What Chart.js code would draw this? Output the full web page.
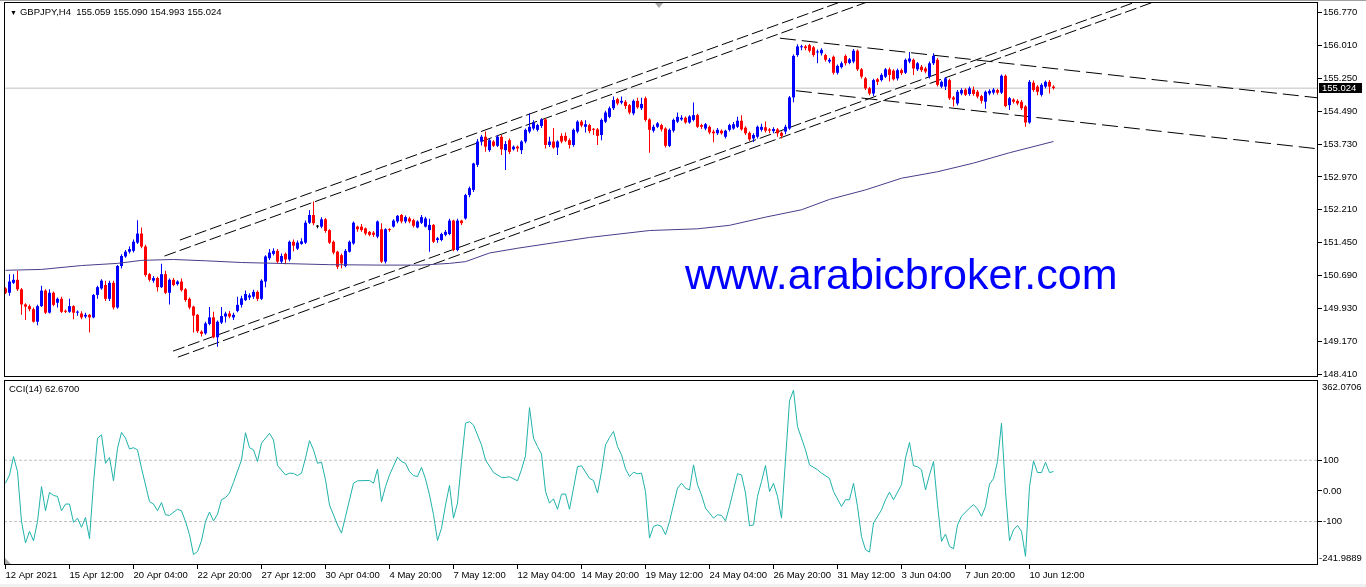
<!DOCTYPE html>
<html>
<head>
<meta charset="utf-8">
<title>GBPJPY,H4</title>
<script src="https://cdn.jsdelivr.net/npm/chart.js@4.4.1/dist/chart.umd.min.js"></script>
<style>
  html, body { margin: 0; padding: 0; background: #fff; }
  body { position: relative; width: 1366px; height: 587px; overflow: hidden; font-family: "Liberation Sans", Arial, sans-serif; }
  canvas { position: absolute; left: 0; }
  #priceChart { top: 0; }
  #cciChart { top: 378px; }
  .txt { position: absolute; font-size: 9.5px; line-height: 11px; color: #000; white-space: pre; }
  #header { left: 10px; top: 6px; }
  #header span { font-size: 7px; margin-right: 3px; }
  #cciTitle { left: 9px; top: 383px; }
  #bidBox { left: 1319px; top: 83px; width: 40px; height: 10px; line-height: 10px; padding-left: 3px; background: #000; color: #fff; }
  #cciMax { left: 1322px; top: 381px; }
  #cciMin { left: 1319px; top: 552px; }
  #site { position: absolute; left: 685px; top: 253px; font-size: 43px; line-height: 43px; color: #0000ff; white-space: nowrap; }
  #topLine { position: absolute; left: 0; top: 0; width: 1366px; height: 1px; background: #a0a0a0; }
  #bottomBand { position: absolute; left: 0; top: 584px; width: 1366px; height: 3px; background: #f0f0f0; }
</style>
</head>
<body>
<canvas id="priceChart" width="1366" height="380"></canvas>
<canvas id="cciChart" width="1366" height="209"></canvas>
<div id="topLine"></div>
<div class="txt" id="header"><span>▼</span>GBPJPY,H4  155.059 155.090 154.993 155.024</div>
<div id="site">www.arabicbroker.com</div>
<div class="txt" id="bidBox">155.024</div>
<div class="txt" id="cciTitle">CCI(14) 62.6700</div>
<div class="txt" id="cciMax">362.0706</div>
<div class="txt" id="cciMin">-241.9889</div>
<div id="bottomBand"></div>
<script>
/* H4 candles, one entry per bar */
const barOpen = [
  150.39,150.29,150.52,150.59,150.37,150.02,149.98,149.91,149.62,149.98,
  150.34,149.83,150.29,150.06,150.15,149.87,149.85,149.98,149.83,149.81,
  149.74,149.78,149.72,150.24,150.39,150.47,150.15,150.52,149.95,150.91,
  151.13,151.24,151.26,151.45,151.66,151.36,150.72,150.57,150.63,150.42,
  150.72,150.29,150.59,150.49,150.55,150.37,150.15,149.97,149.78,149.39,
  149.35,149.57,149.72,149.26,149.60,149.74,149.81,149.72,
  149.87,150.01,150.12,150.18,150.20,150.31,150.15,150.55,151.09,151.19,
  151.26,151.01,151.19,151.06,151.47,151.31,151.42,151.45,151.91,152.09,
  151.82,151.82,151.99,151.74,151.47,151.24,151.16,150.91,151.24,151.43,
  151.82,151.82,151.78,151.70,151.68,151.59,151.76,151.01,151.76,151.82,
  151.94,152.09,151.94,152.01,151.97,151.80,151.91,151.82,151.74,151.86,
  151.51,151.51,151.63,151.65,151.96,151.28,151.96,
  152.01,152.55,152.67,153.25,153.79,153.90,153.59,153.79,153.69,153.90,
  153.59,153.82,153.61,153.67,153.59,153.79,154.02,154.09,154.06,154.15,
  154.30,153.71,153.79,153.65,153.92,153.92,153.82,153.71,154.02,154.25,
  154.13,154.17,154.07,154.07,153.94,154.25,154.36,154.56,154.77,154.69,
  154.71,154.63,154.44,154.73,154.56,154.79,154.30,154.04,154.13,154.17,
  154.09,153.69,154.04,154.25,154.30,154.34,
  154.23,154.29,154.40,154.17,154.09,154.13,154.02,153.98,154.04,153.90,
  154.06,154.09,154.13,154.27,154.11,153.99,153.86,153.90,154.06,154.12,
  154.07,154.03,154.07,153.99,154.02,154.09,154.81,155.79,155.97,155.99,
  156.02,155.97,155.85,155.83,155.79,155.64,155.75,155.38,155.51,155.77,
  155.61,155.64,155.89,155.46,155.25,155.02,154.90,155.23,155.21,155.29,155.46,
  155.43,155.25,155.44,155.38,155.64,155.68,155.46,155.52,155.48,155.29,
  155.60,155.68,155.06,155.06,155.21,154.81,154.67,154.90,154.99,154.89,
  154.99,154.94,154.84,154.71,154.90,154.92,154.98,154.92,155.31,154.63,
  154.76,154.73,154.71,154.60,154.23,155.15,155.06,154.87,155.06,155.17,155.059
];
const barHigh = [
  150.42,150.72,150.72,150.80,150.40,150.05,150.02,149.95,150.01,150.45,
  150.37,150.37,150.32,150.18,150.20,149.90,150.15,150.00,149.88,149.86,
  149.83,149.80,150.26,150.45,150.60,150.57,150.57,150.57,150.93,151.18,
  151.28,151.36,151.52,151.97,151.80,151.40,150.75,150.68,150.66,150.96,
  150.80,150.62,150.63,150.58,150.62,150.40,150.18,149.99,149.80,149.42,
  149.62,149.96,149.85,149.65,149.96,149.85,149.87,149.83,
  150.20,150.22,150.34,150.28,150.36,150.34,150.60,151.16,151.30,151.32,
  151.30,151.20,151.22,151.50,151.52,151.50,151.55,151.96,152.20,152.40,
  151.86,152.04,152.02,151.76,151.50,151.26,151.20,151.30,151.50,151.94,
  151.84,151.88,151.80,151.72,151.72,151.96,151.90,151.78,151.78,151.99,
  152.09,152.11,152.08,152.05,152.00,151.97,152.09,152.05,152.00,151.88,
  151.58,151.68,151.74,152.00,151.98,152.00,151.98,
  152.58,152.75,153.30,153.85,153.94,154.02,153.86,153.82,153.94,153.94,
  153.80,153.86,153.70,153.70,153.82,154.09,154.44,154.28,154.20,154.33,
  154.33,153.90,154.10,153.82,153.98,154.00,153.86,154.09,154.28,154.29,
  154.28,154.20,154.10,154.10,154.32,154.50,154.60,154.83,154.80,154.83,
  154.75,154.66,154.76,154.80,154.80,154.83,154.33,154.18,154.24,154.20,
  154.12,154.09,154.32,154.46,154.40,154.37,
  154.40,154.69,154.43,154.20,154.22,154.16,154.06,154.10,154.07,154.06,
  154.20,154.24,154.36,154.40,154.14,154.02,153.98,154.16,154.20,154.25,
  154.10,154.12,154.10,154.02,154.18,154.84,155.80,156.04,156.03,156.02,
  156.05,156.00,155.92,155.95,155.82,155.72,155.78,155.57,155.64,155.80,
  155.72,155.93,155.92,155.49,155.28,155.05,155.24,155.26,155.37,155.49,155.50,
  155.46,155.48,155.48,155.71,155.86,155.71,155.63,155.56,155.52,155.64,
  155.83,155.72,155.20,155.28,155.24,154.84,154.98,155.02,155.02,155.06,
  155.06,154.98,154.87,154.97,155.00,155.03,155.01,155.34,155.34,154.82,
  154.79,154.77,154.75,154.63,155.21,155.20,155.10,155.14,155.20,155.21,155.090
];
const barLow = [
  150.26,150.22,150.49,150.33,149.78,149.66,149.86,149.60,149.54,149.96,
  149.80,149.81,149.98,149.95,149.82,149.82,149.83,149.68,149.76,149.68,
  149.70,149.37,149.70,150.15,150.36,150.10,150.10,149.90,149.92,150.85,
  151.10,151.20,151.22,151.42,151.32,150.66,150.55,150.52,150.32,150.40,
  150.26,150.02,150.44,150.46,150.32,150.08,149.91,149.37,149.36,149.28,
  149.32,149.54,149.24,149.04,149.57,149.60,149.70,149.66,
  149.84,149.95,150.10,150.12,150.15,150.10,150.12,150.42,151.05,151.15,
  150.97,150.98,150.95,151.02,151.25,151.28,151.40,151.42,151.88,151.85,
  151.78,151.78,151.68,151.42,151.18,150.84,150.86,150.88,151.22,151.40,
  151.70,151.70,151.62,151.60,151.58,151.55,150.98,150.97,151.70,151.80,
  151.90,151.90,151.90,151.90,151.80,151.78,151.88,151.80,151.24,151.44,
  151.45,151.48,151.60,151.62,151.25,151.25,151.86,
  151.98,152.50,152.62,153.20,153.70,153.55,153.55,153.66,153.66,153.48,
  153.13,153.50,153.58,153.55,153.50,153.75,153.98,154.05,154.02,154.10,
  153.63,153.66,153.62,153.48,153.75,153.78,153.63,153.67,153.98,154.12,
  154.00,153.98,153.94,153.71,153.82,154.22,154.33,154.52,154.63,154.65,
  154.55,154.42,154.40,154.55,154.52,154.25,153.53,154.00,154.10,154.02,
  153.65,153.66,154.00,154.22,154.27,154.20,
  154.20,154.26,154.10,154.08,154.05,153.96,153.77,153.94,153.95,153.86,
  154.02,154.06,154.10,154.04,153.94,153.80,153.78,153.86,154.02,154.00,
  153.98,153.98,153.90,153.86,153.96,154.06,154.70,155.75,155.90,155.90,
  155.85,155.75,155.60,155.78,155.64,155.60,155.34,155.34,155.48,155.55,
  155.58,155.60,155.42,155.25,154.98,154.86,154.84,155.10,155.18,155.26,155.18,
  155.20,155.20,155.33,155.35,155.60,155.33,155.42,155.40,155.37,155.25,
  155.56,155.06,155.02,154.98,154.75,154.60,154.62,154.86,154.84,154.85,
  154.85,154.79,154.67,154.55,154.86,154.88,154.88,154.89,154.58,154.52,
  154.67,154.63,154.52,154.13,154.20,154.94,154.86,154.83,155.02,154.90,154.993
];
const barClose = [
  150.29,150.55,150.59,150.37,150.02,149.97,149.91,149.62,149.98,150.34,
  149.83,150.29,150.01,150.15,149.85,149.85,149.98,149.83,149.85,149.72,
  149.78,149.72,150.24,150.42,150.57,150.15,150.52,149.95,150.91,151.14,
  151.24,151.30,151.47,151.66,151.36,150.70,150.59,150.63,150.42,150.72,
  150.29,150.59,150.47,150.55,150.35,150.12,149.95,149.76,149.40,149.34,
  149.58,149.72,149.26,149.62,149.75,149.81,149.74,149.78,
  150.01,150.16,150.26,150.23,150.31,150.15,150.57,151.13,151.22,151.26,
  151.01,151.14,151.06,151.47,151.38,151.45,151.48,151.91,152.09,151.90,
  151.82,151.99,151.72,151.45,151.22,150.89,150.97,151.26,151.47,151.91,
  151.76,151.74,151.66,151.63,151.63,151.94,151.01,151.76,151.74,151.96,
  152.07,151.94,152.04,151.94,151.84,151.94,152.04,152.01,151.86,151.47,
  151.55,151.65,151.70,151.96,151.28,151.96,151.90,
  152.55,152.71,153.28,153.79,153.90,153.67,153.82,153.69,153.90,153.61,
  153.73,153.55,153.67,153.63,153.79,154.06,154.13,154.23,154.17,154.30,
  153.71,153.79,153.65,153.79,153.79,153.81,153.71,154.06,154.25,154.16,
  154.19,154.03,154.06,153.92,154.29,154.46,154.56,154.75,154.67,154.73,
  154.61,154.46,154.73,154.58,154.66,154.29,154.06,154.13,154.21,154.07,
  153.69,154.06,154.29,154.36,154.34,154.23,
  154.37,154.40,154.13,154.13,154.19,154.00,153.98,154.06,153.98,154.04,
  154.17,154.19,154.27,154.07,153.98,153.84,153.94,154.13,154.13,154.04,
  154.04,154.08,153.98,153.92,154.13,154.81,155.77,155.99,155.99,155.95,
  155.89,155.79,155.87,155.91,155.68,155.68,155.38,155.54,155.60,155.60,
  155.69,155.89,155.46,155.29,155.02,154.90,155.21,155.17,155.33,155.46,155.33,
  155.23,155.44,155.37,155.68,155.71,155.48,155.60,155.44,155.41,155.60,
  155.77,155.10,155.17,155.25,154.79,154.76,154.94,154.98,154.87,155.02,
  154.89,154.83,154.73,154.94,154.96,154.99,154.92,155.31,154.61,154.79,
  154.71,154.67,154.56,154.23,155.17,154.98,154.94,155.10,155.17,155.06,155.024
];

/* moving average, vertices */
const maBars = [0, 9, 19, 28, 34, 42, 50, 59, 68, 81, 94, 104, 111, 115, 121, 128, 146, 161, 173, 181, 190, 199, 206, 215, 224, 233, 242, 251, 262];
const maValues = [150.81, 150.83, 150.92, 150.97, 151.04, 151.06, 151.03, 150.99, 150.97, 150.94, 150.93, 150.93, 150.97, 151.01, 151.21, 151.32, 151.57, 151.73, 151.77, 151.85, 152.04, 152.21, 152.45, 152.67, 152.94, 153.09, 153.29, 153.53, 153.79];

/* CCI(14) vertices */
const cciBars = [
  0,1,2,3,4,5,6,7,8,9,
  10,11,12,13,14,15,16,17,18,19,
  20,21,22,23,24,25,26,27,28,29,
  30,31,32,33,34,36,37,38,39,40,
  41,43,44,45,46,47,48,49,50,51,
  52,53,54,55,56,57,59,60,61,62,
  63,64,66,67,68,70,71,72,73,74,
  75,76,77,78,79,80,81,83,84,85,
  87,88,91,92,93,94,95,96,98,99,
  100,101,102,103,104,105,106,107,108,109,
  110,111,112,113,114,115,116,117,119,120,
  122,124,125,126,128,129,130,131,132,133,
  134,135,136,137,138,139,140,141,142,143,
  144,146,147,148,149,150,151,152,153,154,
  155,156,157,158,159,160,161,162,163,164,
  165,166,168,169,170,171,172,173,174,175,
  177,178,179,180,181,183,184,185,186,187,
  188,189,190,191,192,193,194,196,197,198,
  200,201,203,204,206,207,209,210,211,212,
  213,214,215,216,217,219,220,221,222,224,
  225,226,227,228,229,230,231,232,233,234,
  235,236,237,238,239,241,242,243,244,245,
  246,247,248,249,250,251,252,253,254,255,
  256,257,258,259,260,261,262
];
const cciValues = [
  25,52,112,63,-100,-170,-132,-163,-100,14,
  -65,-5,-15,-18,-65,-43,-43,-103,-89,-119,
  -87,-156,25,172,183,90,109,33,139,191,
  172,137,141,134,74,-35,-43,-65,-38,-78,
  -80,-60,-65,-100,-143,-208,-198,-163,-100,-69,
  -98,-76,-29,-22,-7,28,101,190,141,134,
  96,156,188,166,83,52,58,57,50,58,
  107,164,134,90,94,36,-46,-111,-138,-84,
  25,33,34,25,71,-35,14,52,110,96,
  90,63,50,47,77,39,-13,-78,-162,-122,
  -46,18,-89,-40,96,221,226,215,150,101,
  60,44,44,46,33,70,115,272,172,145,
  120,-2,-40,-26,-60,-11,-10,-60,9,79,
  82,41,34,-7,63,150,174,194,145,118,
  72,47,61,56,58,-2,-154,-116,-111,-116,
  -143,-100,9,25,9,3,85,20,-13,-56,
  -89,-78,-80,-98,-51,56,52,-7,-114,-111,
  -18,31,83,-2,25,-18,-89,294,329,210,
  134,85,69,58,41,-2,-51,-29,-29,25,
  -51,-149,-192,-200,-105,-62,-29,-4,-29,20,
  107,158,82,79,69,3,52,96,-45,-165,
  -141,-181,-189,-111,-83,-56,-45,-59,-83,-51,
  22,40,96,221,-2,-163,-127,-113,-132,-214,
  14,98,60,60,93,60,63
];

/* hand drawn trend lines: start/end bar and price */
const trendStartBar = [43.6, 39.75, 41.9, 43.1, 193.6, 197.6];
const trendStartPrice = [151.51, 151.14, 148.94, 148.80, 156.18, 154.965];
const trendEndBar = [208.8, 215.5, 282.6, 287.1, 328.1, 328.1];
const trendEndPrice = [157.02, 157.02, 157.02, 157.02, 154.80, 153.62];

const bidPrice = 155.024;
const priceTicks = [148.41, 149.17, 149.93, 150.69, 151.45, 152.21, 152.97, 153.73, 154.49, 155.25, 156.01, 156.77];
const priceMin = 148.341, priceMax = 157.0176;
const cciTicks = [100, 0, -100];
const cciMin = -241.9889, cciMax = 362.0706;
const cciLevels = [100, -100];
const xLabelBars = [0, 16, 32, 48, 64, 80, 96, 112, 128, 144, 160, 176, 192, 208, 224, 240, 256];
const xLabelText = ["12 Apr 2021", "15 Apr 12:00", "20 Apr 04:00", "22 Apr 20:00", "27 Apr 12:00", "30 Apr 04:00", "4 May 20:00", "7 May 12:00", "12 May 04:00", "14 May 20:00", "19 May 12:00", "24 May 04:00", "26 May 20:00", "31 May 12:00", "3 Jun 04:00", "7 Jun 20:00", "10 Jun 12:00"];
const xMin = -0.375, xMax = 328.125;

Chart.defaults.font.family = '"Liberation Sans", Arial, sans-serif';
Chart.defaults.font.size = 9.5;
Chart.defaults.color = '#000';
Chart.defaults.animation = false;

const candleColor = i => barClose[i] > barOpen[i] ? '#0000ff' : (barClose[i] < barOpen[i] ? '#ff0000' : '#000000');

/* black frame round each pane, plus the small grey markers */
const framePlugin = {
  id: 'frame',
  afterDraw(chart, args, opts) {
    const { ctx, chartArea: a } = chart;
    ctx.save();
    ctx.strokeStyle = '#000';
    ctx.lineWidth = 1;
    ctx.strokeRect(a.left + 0.5, a.top + 0.5, a.right - a.left - 1, a.bottom - a.top - 1);
    ctx.fillStyle = '#a8a8a8';
    ctx.beginPath();
    if (opts.marker === 'top') {
      ctx.moveTo(655, 3); ctx.lineTo(663, 3); ctx.lineTo(659, 8);
    } else {
      ctx.moveTo(a.left + 1, a.bottom - 7); ctx.lineTo(a.left + 1, a.bottom - 1); ctx.lineTo(a.left + 7, a.bottom - 1);
    }
    ctx.fill();
    ctx.restore();
  }
};

function xScale(show) {
  return {
    type: 'linear', min: xMin, max: xMax, offset: false, bounds: 'data', display: show,
    afterBuildTicks: s => { s.ticks = xLabelBars.map(v => ({ value: v })); },
    afterFit: s => { s.height = show ? 22 : 0; s.paddingLeft = 0; s.paddingRight = 0; },
    ticks: { autoSkip: false, maxRotation: 0, minRotation: 0, align: 'start', padding: 1, color: '#000',
             callback: (v, i) => xLabelText[i] },
    grid: { drawOnChartArea: false, drawTicks: true, tickLength: 4, color: '#000', offset: false },
    border: { display: false }
  };
}

function yScale(min, max, ticks, fmt) {
  return {
    type: 'linear', position: 'right', min: min, max: max, bounds: 'data',
    afterBuildTicks: s => { s.ticks = ticks.map(v => ({ value: v })); },
    afterFit: s => { s.width = 48; s.paddingTop = 0; s.paddingBottom = 0; },
    ticks: { autoSkip: false, padding: 1, color: '#000', callback: fmt },
    grid: { drawOnChartArea: false, drawTicks: true, tickLength: 4, color: '#000' },
    border: { display: false }
  };
}

const lineSet = (pts, color, dash, order) => ({
  type: 'line', data: pts, borderColor: color, borderWidth: 1, borderDash: dash,
  pointRadius: 0, tension: 0, order: order
});

const trendSets = trendStartBar.map((b, k) => lineSet(
  [{ x: b, y: trendStartPrice[k] }, { x: trendEndBar[k], y: trendEndPrice[k] }],
  '#000', k < 4 ? [12, 4] : [16, 6], 4));

new Chart(document.getElementById('priceChart'), {
  type: 'bar',
  data: {
    datasets: [
      lineSet(maBars.map((b, i) => ({ x: b, y: maValues[i] })), '#483d8b', [], 1),
      {
        type: 'bar', order: 2, grouped: false, barThickness: 3, inflateAmount: 0, minBarLength: 1, borderWidth: 0,
        data: barOpen.map((o, i) => ({ x: i, y: [o, barClose[i]] })),
        backgroundColor: c => candleColor(c.dataIndex)
      },
      {
        type: 'bar', order: 3, grouped: false, barThickness: 1, inflateAmount: 0, borderWidth: 0,
        data: barHigh.map((h, i) => ({ x: i, y: [barLow[i], h] })),
        backgroundColor: c => candleColor(c.dataIndex)
      },
      ...trendSets,
      lineSet([{ x: xMin, y: bidPrice }, { x: xMax, y: bidPrice }], '#c0c0c0', [], 5)
    ]
  },
  options: {
    responsive: false, devicePixelRatio: 1, events: [],
    layout: { padding: { left: 4, top: 2, right: 0, bottom: 3 } },
    plugins: { legend: { display: false }, tooltip: { enabled: false }, frame: { marker: 'top' } },
    scales: {
      x: xScale(false),
      y: yScale(priceMin, priceMax, priceTicks, v => v.toFixed(3))
    }
  },
  plugins: [framePlugin]
});

new Chart(document.getElementById('cciChart'), {
  type: 'line',
  data: {
    datasets: [
      lineSet(cciBars.map((b, i) => ({ x: b, y: cciValues[i] })), '#20b2aa', [], 1),
      ...cciLevels.map(l => lineSet([{ x: xMin, y: l }, { x: xMax, y: l }], '#c0c0c0', [3, 2], 2))
    ]
  },
  options: {
    responsive: false, devicePixelRatio: 1, events: [],
    layout: { padding: { left: 4, top: 2, right: 0, bottom: 0 } },
    plugins: { legend: { display: false }, tooltip: { enabled: false }, frame: { marker: 'bottom' } },
    scales: {
      x: xScale(true),
      y: yScale(cciMin, cciMax, cciTicks, v => v === 0 ? '0.00' : String(v))
    }
  },
  plugins: [framePlugin]
});
</script>
</body>
</html>
